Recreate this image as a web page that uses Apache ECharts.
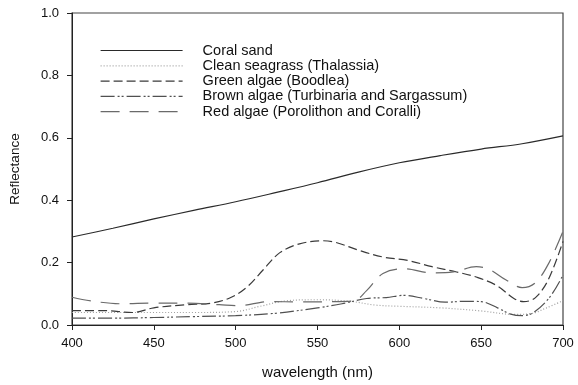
<!DOCTYPE html>
<html>
<head>
<meta charset="utf-8">
<script src="https://cdn.jsdelivr.net/npm/echarts@6/dist/echarts.min.js"></script>
<style>
html,body{margin:0;padding:0;background:#fff;}
#chart{width:578px;height:385px;}
</style>
</head>
<body>
<div id="chart"></div>
<script>
// Series names
const seriesNames = [
  'Coral sand',
  'Clean seagrass (Thalassia)',
  'Green algae (Boodlea)',
  'Brown algae (Turbinaria and Sargassum)',
  'Red algae (Porolithon and Coralli)'
];

// Coral sand
const coralX = [400,425,450,475,500,525,550,575,600,625,650,675,700];
const coralY = [0.282,0.310,0.340,0.368,0.395,0.425,0.456,0.490,0.520,0.543,0.564,0.581,0.606];

// Clean seagrass
const seagrassX = [400,425,450,475,500,515,530,550,570,585,600,625,650,670,680,690,700];
const seagrassY = [0.040,0.040,0.040,0.040,0.043,0.060,0.077,0.081,0.076,0.064,0.060,0.055,0.045,0.034,0.036,0.055,0.078];

// Green algae
const greenX = [400,420,437,450,470,485,497,507,517,527,539,553,561,575,590,605,620,635,648,660,670,676,683,691,700];
const greenY = [0.046,0.046,0.040,0.055,0.065,0.070,0.088,0.122,0.178,0.232,0.260,0.270,0.265,0.240,0.218,0.207,0.187,0.170,0.152,0.125,0.085,0.075,0.087,0.145,0.268];

// Brown algae
const brownX = [400,425,450,475,500,525,550,565,580,592,603,615,628,640,650,660,668,675,682,692,700];
const brownY = [0.022,0.022,0.024,0.027,0.030,0.038,0.055,0.068,0.085,0.088,0.095,0.085,0.073,0.076,0.075,0.055,0.035,0.030,0.040,0.090,0.160];

// Red algae
const redX = [400,413,430,450,470,490,502,520,540,560,572,580,590,603,620,633,647,655,665,675,683,691,700];
const redY = [0.089,0.076,0.068,0.070,0.070,0.065,0.062,0.075,0.074,0.075,0.077,0.110,0.165,0.180,0.167,0.170,0.187,0.178,0.145,0.120,0.135,0.195,0.300];

// Axis ticks
const xTicks = {min:400, max:700, step:50};
const yTicks = {min:0, max:1, step:0.2};

function pairs(xs, ys){ return xs.map((x,i)=>[x, ys[i]]); }

const styles = [
  {color:'#2a2a2a', type:'solid', width:1.2},
  {color:'#a0a0a0', type:[1,2], width:1.2},
  {color:'#3a3a3a', type:[9,4], width:1.2},
  {color:'#505050', type:[14,3,2,2,2,3], width:1.2},
  {color:'#6a6a6a', type:[19,10], width:1.2}
];
const dataSets = [pairs(coralX,coralY), pairs(seagrassX,seagrassY), pairs(greenX,greenY), pairs(brownX,brownY), pairs(redX,redY)];

const chart = echarts.init(document.getElementById('chart'), null, {renderer:'canvas'});
const font = 'Liberation Sans, Arial, sans-serif';
chart.setOption({
  animation:false,
  backgroundColor:'#fff',
  grid:{left:72, right:15, top:13, bottom:57, show:true, borderColor:'#444', borderWidth:1.2, backgroundColor:'transparent'},
  legend:{
    left:100, top:43, orient:'vertical', itemWidth:82, itemHeight:14, itemGap:0.3, padding:0,
    itemStyle:{color:'rgba(0,0,0,0)', borderWidth:0, opacity:0},
    lineStyle:{width:1.2},
    textStyle:{fontFamily:font, fontSize:14.5, lineHeight:14, color:'#111', padding:[0,0,0,15]},
    data:seriesNames
  },
  xAxis:{
    type:'value', min:xTicks.min, max:xTicks.max, interval:xTicks.step,
    name:'wavelength (nm)', nameLocation:'middle', nameGap:40,
    nameTextStyle:{fontFamily:font, fontSize:15, color:'#111'},
    axisLine:{show:true, lineStyle:{color:'#222', width:1}},
    axisTick:{show:true, length:5, lineStyle:{color:'#222'}},
    axisLabel:{fontFamily:font, fontSize:13, color:'#111', margin:12},
    splitLine:{show:false}
  },
  yAxis:{
    type:'value', min:yTicks.min, max:yTicks.max, interval:yTicks.step,
    name:'Reflectance', nameLocation:'middle', nameGap:50, nameRotate:90,
    nameTextStyle:{fontFamily:font, fontSize:13.5, color:'#111'},
    axisLine:{show:true, lineStyle:{color:'#222', width:1}},
    axisTick:{show:true, length:5, lineStyle:{color:'#222'}},
    axisLabel:{fontFamily:font, fontSize:13, color:'#111', margin:13, formatter:v=>v.toFixed(1)},
    splitLine:{show:false}
  },
  series: seriesNames.map((n,i)=>({
    name:n, type:'line', data:dataSets[i], smooth:0.35, symbol:'none', showSymbol:false,
    lineStyle:{color:styles[i].color, type:styles[i].type, width:styles[i].width},
    itemStyle:{color:styles[i].color}
  }))
});
</script>
</body>
</html>
